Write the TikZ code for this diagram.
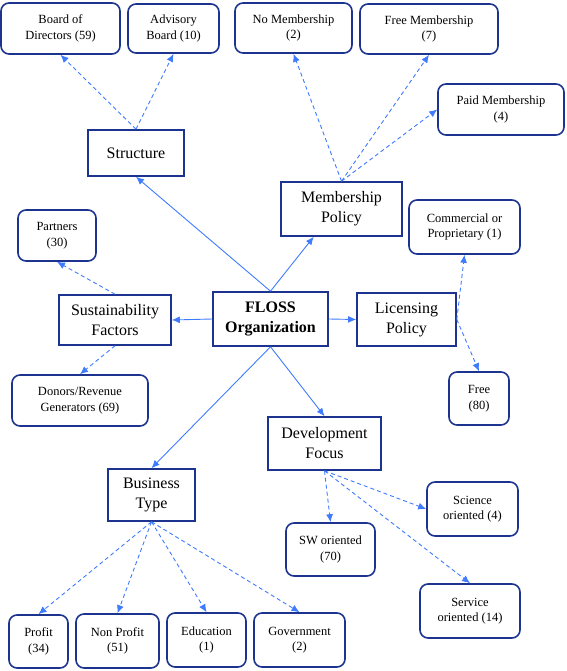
\documentclass[tikz,border=0pt]{standalone}
\usepackage{fontspec}
\setmainfont{Liberation Serif}
\usepackage{xcolor}
\usetikzlibrary{arrows.meta}
\definecolor{boxblue}{HTML}{1C3490}
\definecolor{linkblue}{HTML}{3F7BFF}

\begin{document}
\begin{tikzpicture}[x=1pt, y=-1pt,
    cat/.style={draw=boxblue, line width=1.6pt, align=center, inner sep=0pt,
                font=\fontsize{16}{20}\selectfont},
    leaf/.style={draw=boxblue, line width=1.6pt, rounded corners=8pt, align=center, inner sep=0pt,
                 font=\fontsize{12.5}{15.5}\selectfont},
    link/.style={-{Latex[length=8pt,width=7pt]}, linkblue, line width=0.9pt},
    sublink/.style={link, dash pattern=on 4pt off 3pt}]
            \useasboundingbox (0,0) rectangle (566,671);
            % categories
            \node[cat, minimum width=115pt, minimum height=54pt] (floss) at (270.5,319) {\textbf{FLOSS}\\\textbf{Organization}};
            \node[cat, minimum width=96pt, minimum height=46pt] (structure) at (136,153) {Structure};
            \node[cat, minimum width=121pt, minimum height=54pt] (membership) at (341.5,209) {Membership\\Policy};
            \node[cat, minimum width=112pt, minimum height=50pt] (sustain) at (115,320) {Sustainability\\Factors};
            \node[cat, minimum width=99pt, minimum height=53pt] (licensing) at (406.5,319.5) {Licensing\\Policy};
            \node[cat, minimum width=113pt, minimum height=53pt] (devfocus) at (324.5,443.5) {Development\\Focus};
            \node[cat, minimum width=87pt, minimum height=52pt] (business) at (151.5,495) {Business\\Type};
            % leaves
            \node[leaf, minimum width=119pt, minimum height=51pt] (board) at (60.5,28.5) {Board of\\Directors (59)};
            \node[leaf, minimum width=91pt, minimum height=49pt] (advisory) at (173.5,28.5) {Advisory\\Board (10)};
            \node[leaf, minimum width=117pt, minimum height=50pt] (nomem) at (293.5,28) {No Membership\\(2)};
            \node[leaf, minimum width=138pt, minimum height=50pt] (freemem) at (429,29) {Free Membership\\(7)};
            \node[leaf, minimum width=126pt, minimum height=51pt] (paidmem) at (501,109.5) {Paid Membership\\(4)};
            \node[leaf, minimum width=78pt, minimum height=51pt] (partners) at (57,235.5) {Partners\\(30)};
            \node[leaf, minimum width=111pt, minimum height=54pt] (commercial) at (464.5,227) {Commercial or\\Proprietary (1)};
            \node[leaf, minimum width=136pt, minimum height=51pt] (donors) at (80,400.5) {Donors/Revenue\\Generators (69)};
            \node[leaf, minimum width=60pt, minimum height=53pt] (free) at (479,398.5) {Free\\(80)};
            \node[leaf, minimum width=91pt, minimum height=54pt] (science) at (472.5,509) {Science\\oriented (4)};
            \node[leaf, minimum width=89pt, minimum height=53pt] (sw) at (330.5,549.5) {SW oriented\\(70)};
            \node[leaf, minimum width=100pt, minimum height=54pt] (service) at (470,611) {Service\\oriented (14)};
            \node[leaf, minimum width=59pt, minimum height=53pt] (profit) at (38.5,641.5) {Profit\\(34)};
            \node[leaf, minimum width=83pt, minimum height=54pt] (nonprofit) at (117.5,641) {Non Profit\\(51)};
            \node[leaf, minimum width=79pt, minimum height=54pt] (education) at (206.5,640) {Education\\(1)};
            \node[leaf, minimum width=91pt, minimum height=54pt] (government) at (299.5,640) {Government\\(2)};
            % main links
            \draw[link] (floss.north) -- (structure.south);
            \draw[link] (floss.north) -- (membership.225);
            \draw[link] (floss.west) -- (sustain.east);
            \draw[link] (floss.east) -- (licensing.west);
            \draw[link] (floss.south) -- (business.north);
            \draw[link] (floss.south) -- (devfocus.north);
            % sub links
            \draw[sublink] (structure.north) -- (board.south);
            \draw[sublink] (structure.north) -- (advisory.south);
            \draw[sublink] (membership.north) -- (nomem.south);
            \draw[sublink] (membership.north) -- (freemem.south);
            \draw[sublink] (membership.north) -- (paidmem.west);
            \draw[sublink] (sustain.north) -- (partners.south);
            \draw[sublink] (sustain.south) -- (donors.north);
            \draw[sublink] (licensing.east) -- (commercial.south);
            \draw[sublink] (licensing.east) -- (free.north);
            \draw[sublink] (devfocus.south) -- (sw.north);
            \draw[sublink] (devfocus.south) -- (science.west);
            \draw[sublink] (devfocus.south) -- (service.north);
            \draw[sublink] (business.south) -- (profit.north);
            \draw[sublink] (business.south) -- (nonprofit.north);
            \draw[sublink] (business.south) -- (education.north);
            \draw[sublink] (business.south) -- (government.north);
\end{tikzpicture}
\end{document}
